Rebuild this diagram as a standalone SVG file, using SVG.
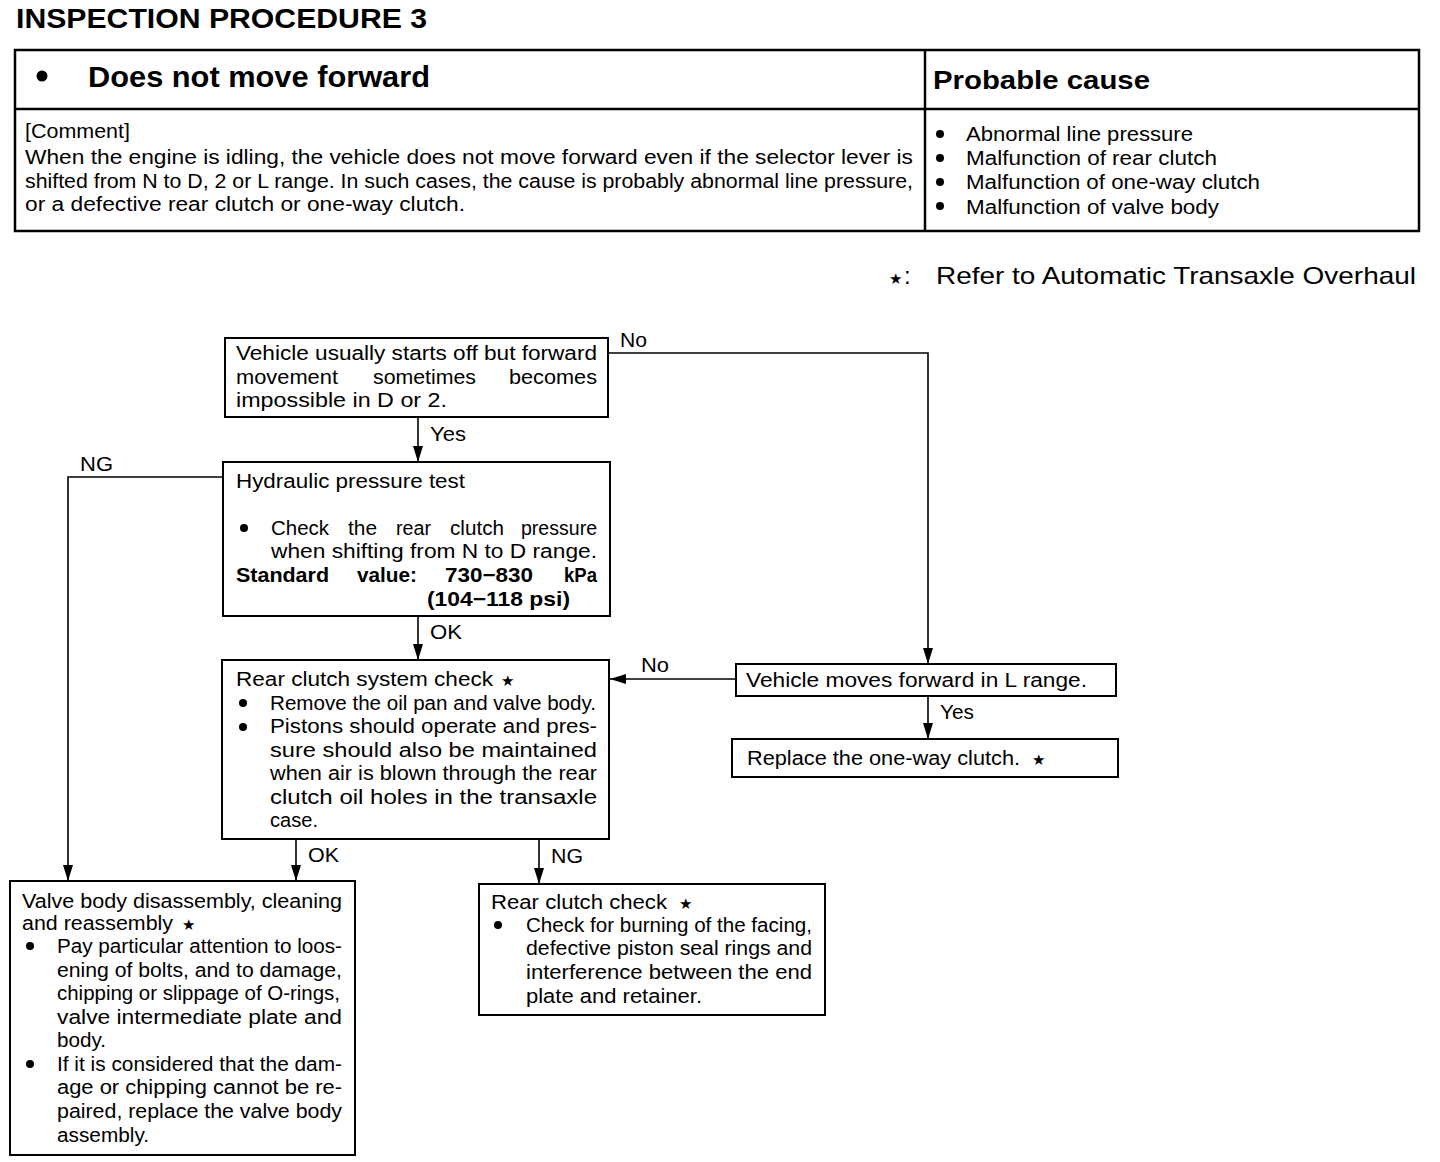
<svg xmlns="http://www.w3.org/2000/svg" width="1440" height="1162" viewBox="0 0 1440 1162">
<style>
text{font-family:"Liberation Sans",Arial,sans-serif;fill:#000}
.t{font-size:20px}
.b{font-weight:bold}
.lbl{font-size:20px}
.box{fill:#fff;stroke:#000;stroke-width:2}
.tbl{fill:none;stroke:#000;stroke-width:2.5}
.con{fill:none;stroke:#000;stroke-width:1.6}
.star{font-family:"DejaVu Sans",sans-serif;font-size:15px}
</style>
<defs>
<marker id="arr" markerUnits="userSpaceOnUse" markerWidth="16" markerHeight="10" viewBox="0 0 16 10" refX="16" refY="5" orient="auto">
<path d="M0,0 L16,5 L0,10 Z" fill="#000"/>
</marker>
</defs>
<rect width="1440" height="1162" fill="#fff"/>

<g id="title">
<text x="16" y="28" class="b" font-size="27" textLength="411" lengthAdjust="spacingAndGlyphs">INSPECTION PROCEDURE 3</text>
</g>

<g id="header-table">
<rect class="tbl" x="15" y="50" width="1404" height="181"/>
<line class="tbl" x1="15" y1="109" x2="1419" y2="109"/>
<line class="tbl" x1="925" y1="50" x2="925" y2="231"/>
<circle cx="42" cy="76" r="5.5"/>
<text x="88" y="87" class="b" font-size="29" textLength="342" lengthAdjust="spacingAndGlyphs">Does not move forward</text>
<text x="933" y="89" class="b" font-size="26" textLength="217" lengthAdjust="spacingAndGlyphs">Probable cause</text>
<text x="25" y="138" class="t" textLength="105" lengthAdjust="spacingAndGlyphs">[Comment]</text>
<text x="25" y="164" class="t" textLength="888" lengthAdjust="spacingAndGlyphs">When the engine is idling, the vehicle does not move forward even if the selector lever is</text>
<text x="25" y="188" class="t" textLength="888" lengthAdjust="spacingAndGlyphs">shifted from N to D, 2 or L range.  In such cases, the cause is probably abnormal line pressure,</text>
<text x="25" y="211" class="t" textLength="440" lengthAdjust="spacingAndGlyphs">or a defective rear clutch or one-way clutch.</text>
<circle cx="940" cy="134" r="4"/>
<circle cx="940" cy="158" r="4"/>
<circle cx="940" cy="182" r="4"/>
<circle cx="940" cy="206" r="4"/>
<text x="966" y="141" class="t" textLength="227" lengthAdjust="spacingAndGlyphs">Abnormal line pressure</text>
<text x="966" y="165" class="t" textLength="251" lengthAdjust="spacingAndGlyphs">Malfunction of rear clutch</text>
<text x="966" y="189" class="t" textLength="294" lengthAdjust="spacingAndGlyphs">Malfunction of one-way clutch</text>
<text x="966" y="214" class="t" textLength="253" lengthAdjust="spacingAndGlyphs">Malfunction of valve body</text>
</g>

<g id="note">
<text x="889" y="284" class="star" font-size="16">★</text>
<text x="904" y="284" font-size="24">:</text>
<text x="936" y="284" font-size="24" textLength="480" lengthAdjust="spacingAndGlyphs">Refer to Automatic Transaxle Overhaul</text>
</g>

<g id="connectors">
<path class="con" d="M418,417 V462" marker-end="url(#arr)"/>
<path class="con" d="M608,353 H928 V664" marker-end="url(#arr)"/>
<path class="con" d="M223,477 H68 V881" marker-end="url(#arr)"/>
<path class="con" d="M418,616 V660" marker-end="url(#arr)"/>
<path class="con" d="M736,679 H610" marker-end="url(#arr)"/>
<path class="con" d="M928,696 V739" marker-end="url(#arr)"/>
<path class="con" d="M296,839 V881" marker-end="url(#arr)"/>
<path class="con" d="M539,839 V884" marker-end="url(#arr)"/>
<text x="620" y="347" class="lbl" textLength="27" lengthAdjust="spacingAndGlyphs">No</text>
<text x="430" y="441" class="lbl" textLength="36" lengthAdjust="spacingAndGlyphs">Yes</text>
<text x="80" y="471" class="lbl" textLength="33" lengthAdjust="spacingAndGlyphs">NG</text>
<text x="430" y="639" class="lbl" textLength="32" lengthAdjust="spacingAndGlyphs">OK</text>
<text x="641" y="672" class="lbl" textLength="28" lengthAdjust="spacingAndGlyphs">No</text>
<text x="940" y="719" class="lbl" textLength="34" lengthAdjust="spacingAndGlyphs">Yes</text>
<text x="308" y="862" class="lbl" textLength="31" lengthAdjust="spacingAndGlyphs">OK</text>
<text x="551" y="863" class="lbl" textLength="32" lengthAdjust="spacingAndGlyphs">NG</text>
</g>

<g id="n-start">
<rect class="box" x="225" y="338" width="383" height="79"/>
<text x="236" y="360" class="t" textLength="361" lengthAdjust="spacingAndGlyphs">Vehicle usually starts off but forward</text>
<text x="236" y="384" class="t" textLength="102" lengthAdjust="spacingAndGlyphs">movement</text>
<text x="373" y="384" class="t" textLength="103" lengthAdjust="spacingAndGlyphs">sometimes</text>
<text x="509" y="384" class="t" textLength="88" lengthAdjust="spacingAndGlyphs">becomes</text>
<text x="236" y="407" class="t" textLength="211" lengthAdjust="spacingAndGlyphs">impossible in D or 2.</text>
</g>

<g id="n-hydraulic">
<rect class="box" x="223" y="462" width="387" height="154"/>
<text x="236" y="488" class="t" textLength="229" lengthAdjust="spacingAndGlyphs">Hydraulic pressure test</text>
<circle cx="244" cy="528" r="4"/>
<text x="271" y="535" class="t">
<tspan x="271" textLength="58" lengthAdjust="spacingAndGlyphs">Check</tspan>
<tspan x="348" textLength="29" lengthAdjust="spacingAndGlyphs">the</tspan>
<tspan x="396" textLength="35" lengthAdjust="spacingAndGlyphs">rear</tspan>
<tspan x="450" textLength="54" lengthAdjust="spacingAndGlyphs">clutch</tspan>
<tspan x="521" textLength="76" lengthAdjust="spacingAndGlyphs">pressure</tspan>
</text>
<text x="271" y="558" class="t" textLength="326" lengthAdjust="spacingAndGlyphs">when shifting from N to D range.</text>
<text x="236" y="582" class="t b" textLength="93" lengthAdjust="spacingAndGlyphs">Standard</text>
<text x="357" y="582" class="t b" textLength="60" lengthAdjust="spacingAndGlyphs">value:</text>
<text x="445" y="582" class="t b" textLength="88" lengthAdjust="spacingAndGlyphs">730−830</text>
<text x="564" y="582" class="t b" textLength="33" lengthAdjust="spacingAndGlyphs">kPa</text>
<text x="427" y="606" class="t b" textLength="143" lengthAdjust="spacingAndGlyphs">(104−118 psi)</text>
</g>

<g id="n-rear-system">
<rect class="box" x="222" y="660" width="387" height="179"/>
<text x="236" y="686" class="t" textLength="257" lengthAdjust="spacingAndGlyphs">Rear clutch system check</text>
<text x="501" y="686" class="star">★</text>
<circle cx="243" cy="703" r="4"/>
<circle cx="243" cy="727" r="4"/>
<text x="270" y="710" class="t" textLength="326" lengthAdjust="spacingAndGlyphs">Remove the oil pan and valve body.</text>
<text x="270" y="733" class="t" textLength="327" lengthAdjust="spacingAndGlyphs">Pistons should operate and pres-</text>
<text x="270" y="757" class="t" textLength="327" lengthAdjust="spacingAndGlyphs">sure should also be maintained</text>
<text x="270" y="780" class="t" textLength="327" lengthAdjust="spacingAndGlyphs">when air is blown through the rear</text>
<text x="270" y="804" class="t" textLength="327" lengthAdjust="spacingAndGlyphs">clutch oil holes in the transaxle</text>
<text x="270" y="827" class="t" textLength="48" lengthAdjust="spacingAndGlyphs">case.</text>
</g>

<g id="n-lrange">
<rect class="box" x="736" y="664" width="380" height="32"/>
<text x="746" y="687" class="t" textLength="341" lengthAdjust="spacingAndGlyphs">Vehicle moves forward in L range.</text>
</g>

<g id="n-replace">
<rect class="box" x="732" y="739" width="386" height="38"/>
<text x="747" y="765" class="t" textLength="273" lengthAdjust="spacingAndGlyphs">Replace the one-way clutch.</text>
<text x="1032" y="765" class="star">★</text>
</g>

<g id="n-valve">
<rect class="box" x="10" y="881" width="345" height="274"/>
<text x="22" y="908" class="t" textLength="320" lengthAdjust="spacingAndGlyphs">Valve body disassembly, cleaning</text>
<text x="22" y="930" class="t" textLength="151" lengthAdjust="spacingAndGlyphs">and reassembly</text>
<text x="182" y="930" class="star">★</text>
<circle cx="30" cy="946" r="4"/>
<circle cx="30" cy="1064" r="4"/>
<text x="57" y="953" class="t" textLength="285" lengthAdjust="spacingAndGlyphs">Pay particular attention to loos-</text>
<text x="57" y="977" class="t" textLength="285" lengthAdjust="spacingAndGlyphs">ening of bolts, and to damage,</text>
<text x="57" y="1000" class="t" textLength="283" lengthAdjust="spacingAndGlyphs">chipping or slippage of O-rings,</text>
<text x="57" y="1024" class="t" textLength="285" lengthAdjust="spacingAndGlyphs">valve intermediate plate and</text>
<text x="57" y="1047" class="t" textLength="49" lengthAdjust="spacingAndGlyphs">body.</text>
<text x="57" y="1071" class="t" textLength="285" lengthAdjust="spacingAndGlyphs">If it is considered that the dam-</text>
<text x="57" y="1094" class="t" textLength="285" lengthAdjust="spacingAndGlyphs">age or chipping cannot be re-</text>
<text x="57" y="1118" class="t" textLength="285" lengthAdjust="spacingAndGlyphs">paired, replace the valve body</text>
<text x="57" y="1142" class="t" textLength="92" lengthAdjust="spacingAndGlyphs">assembly.</text>
</g>

<g id="n-rear-check">
<rect class="box" x="479" y="884" width="346" height="131"/>
<text x="491" y="909" class="t" textLength="176" lengthAdjust="spacingAndGlyphs">Rear clutch check</text>
<text x="679" y="909" class="star">★</text>
<circle cx="498" cy="925" r="4"/>
<text x="526" y="932" class="t" textLength="286" lengthAdjust="spacingAndGlyphs">Check for burning of the facing,</text>
<text x="526" y="955" class="t" textLength="286" lengthAdjust="spacingAndGlyphs">defective piston seal rings and</text>
<text x="526" y="979" class="t" textLength="286" lengthAdjust="spacingAndGlyphs">interference between the end</text>
<text x="526" y="1003" class="t" textLength="176" lengthAdjust="spacingAndGlyphs">plate and retainer.</text>
</g>
</svg>
